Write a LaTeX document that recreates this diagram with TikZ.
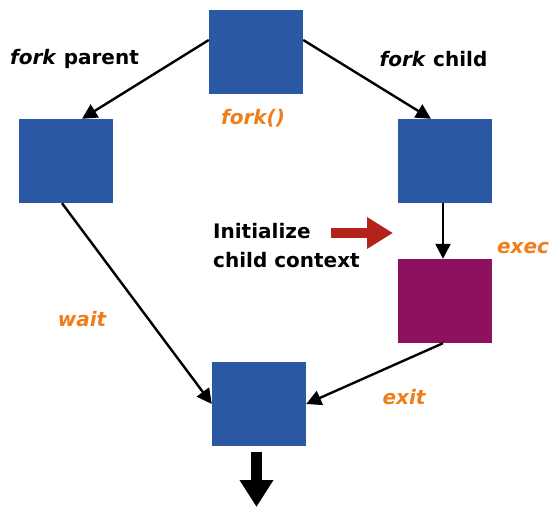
\documentclass[tikz,border=0pt]{standalone}
\usepackage{fontspec}
\setmainfont{DejaVu Sans}
\usetikzlibrary{arrows.meta}
\definecolor{boxblue}{HTML}{2B58A5}
\definecolor{boxpurple}{HTML}{8E1160}
\definecolor{lblorange}{HTML}{F07D1A}
\definecolor{arrred}{HTML}{B3231C}
\begin{document}
\begin{tikzpicture}[x=1pt,y=-1pt,
  blk/.style={fill=boxblue,draw=none,minimum width=94pt,minimum height=84pt,inner sep=0pt},
  conn/.style={line width=2.4pt,-{Triangle[length=15pt,width=15pt]}},
  lbl/.style={font=\fontsize{20}{24}\selectfont\bfseries\itshape,text=lblorange,inner sep=0pt},
  txt/.style={font=\fontsize{20}{24}\selectfont\bfseries,text=black,inner sep=0pt}]
\useasboundingbox (0,0) rectangle (553,509);
\node[blk] (top) at (256,51.5) {};
\node[blk] (left) at (66,161) {};
\node[blk] (right) at (445,161) {};
\node[blk,fill=boxpurple] (exec) at (445,301) {};
\node[blk] (bot) at (259,404) {};
\draw[conn] ([yshift=11.5pt]top.west) -- ([xshift=16pt]left.north);
\draw[conn] ([yshift=11.5pt]top.east) -- ([xshift=-14pt]right.north);
\draw[conn] ([xshift=-4pt]left.south) -- (bot.west);
\draw[conn] ([xshift=-2pt]right.south) -- ([xshift=-2pt]exec.north);
\draw[conn] ([xshift=-2pt]exec.south) -- (bot.east);
\coordinate (down) at (256.5,507);
\draw[line width=11pt,-{Triangle[length=27pt,width=32pt]},shorten <=6pt] (bot.south -| down) -- (down);
\node[txt] (fp) at (74.5,59) {\textit{fork} parent};
\node[txt] (fc) at (433.5,59) {\textit{fork} child};
\node[lbl] (fk) at (253,118) {fork()};
\node[lbl] (wt) at (82,319) {wait};
\node[lbl] (ex) at (523,248) {exec};
\node[lbl] (et) at (404,397) {exit};
\node[txt,align=left,anchor=north west,font=\fontsize{20}{29}\selectfont\bfseries] (init) at (213,223) {Initialize\\child context};
\coordinate (ra) at (331,233);
\coordinate (rb) at (393,233);
\draw[arrred,line width=10pt,-{Triangle[length=26pt,width=30pt]}] (ra) -- (rb);
\end{tikzpicture}
\end{document}
